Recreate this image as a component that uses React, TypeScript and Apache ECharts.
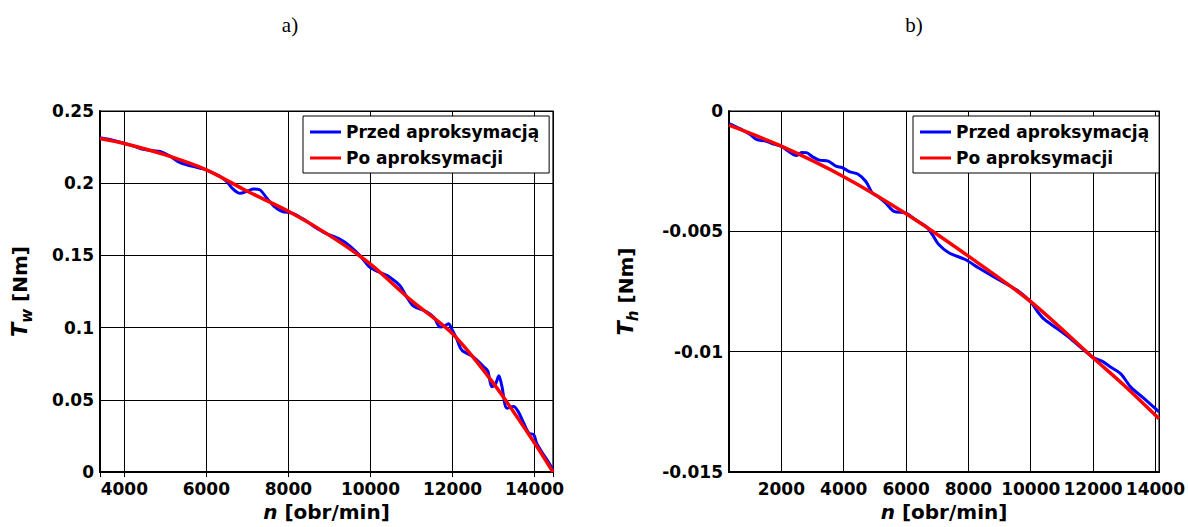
import React, { useEffect, useRef } from "react";
import * as echarts from "echarts";

const FONT = "DejaVu Sans";
const LEGEND_NAMES = ["Przed aproksymacją", "Po aproksymacji"];
const PANEL_TITLES = ["a)", "b)"];

// Panel a) : T_w vs n
const aBlueN = [3407, 3700, 4000, 4250, 4460, 4700, 4870, 5100, 5310, 5520, 5850, 6000, 6170, 6350, 6500, 6650, 6820, 7000, 7150, 7300, 7470, 7650, 7840, 8120, 8400, 8610, 8900, 9260, 9500, 9750, 9990, 10250, 10480, 10720, 10880, 11050, 11370, 11550, 11700, 11800, 11900, 12000, 12100, 12230, 12510, 12760, 12860, 12960, 13050, 13130, 13200, 13330, 13490, 13600, 13700, 13860, 13980, 14050, 14190, 14300, 14400, 14450];
const aBlueT = [0.2315, 0.23, 0.2276, 0.2255, 0.2235, 0.2225, 0.222, 0.219, 0.215, 0.2127, 0.2104, 0.2093, 0.207, 0.2045, 0.201, 0.196, 0.193, 0.1945, 0.196, 0.1955, 0.1898, 0.184, 0.1806, 0.179, 0.1745, 0.1703, 0.1655, 0.1611, 0.1565, 0.1497, 0.1417, 0.138, 0.1348, 0.129, 0.1215, 0.115, 0.111, 0.107, 0.1004, 0.101, 0.1027, 0.098, 0.0924, 0.0843, 0.0798, 0.0729, 0.07, 0.0591, 0.061, 0.0667, 0.06, 0.0442, 0.0454, 0.042, 0.0362, 0.027, 0.0259, 0.02, 0.0133, 0.0087, 0.004, 0.001];
const aRedN = [3407, 4000, 5000, 6000, 7000, 8000, 9000, 10000, 11000, 12000, 13000, 14000, 14450];
const aRedT = [0.231, 0.2275, 0.2196, 0.2093, 0.1944, 0.1806, 0.1639, 0.144, 0.1187, 0.0958, 0.0614, 0.0202, 0.0];

// Panel b) : T_h vs n
const bBlueN = [320, 670, 1000, 1200, 1500, 1700, 2000, 2200, 2480, 2650, 2800, 3000, 3220, 3500, 3750, 3950, 4180, 4450, 4710, 4920, 5100, 5350, 5610, 6000, 6300, 6640, 6850, 7050, 7370, 7900, 8320, 8960, 9600, 10020, 10200, 10430, 10870, 11300, 11990, 12300, 12570, 12890, 13210, 13640, 14117];
const bBlueT = [-0.00052, -0.00073, -0.00098, -0.00118, -0.00125, -0.00135, -0.00147, -0.00165, -0.00185, -0.00172, -0.00173, -0.0019, -0.00204, -0.00208, -0.00229, -0.00235, -0.00252, -0.00262, -0.00293, -0.00341, -0.00355, -0.00383, -0.00417, -0.00424, -0.00452, -0.00479, -0.00515, -0.00555, -0.00589, -0.00617, -0.00651, -0.007, -0.00748, -0.00796, -0.0083, -0.00865, -0.00906, -0.00948, -0.01023, -0.0104, -0.01064, -0.01092, -0.01147, -0.01195, -0.0125];
const bRedN = [320, 2000, 4000, 6000, 8000, 10000, 12000, 13000, 14117];
const bRedT = [-0.00059, -0.00146, -0.00273, -0.00427, -0.00603, -0.00792, -0.01025, -0.0114, -0.01278];

// axis extents
const aXRange = [3407, 14450];
const aYRange = [0, 0.25];
const bXRange = [320, 14117];
const bYRange = [-0.015, 0];
const yStep = [0.05, 0.005];
const xTickStep = 2000;

const pairs = (xs: number[], ys: number[]) => xs.map((x, i) => [x, ys[i]]);

export default function App() {
  const ref = useRef<HTMLDivElement>(null);
  useEffect(() => {
    const chart = echarts.init(ref.current!, null, { renderer: "svg" });
    const lbl = { color: "#000", fontFamily: FONT, fontWeight: "bold" as const, fontSize: 17 };
    const grids = [
      { left: 100, top: 111, width: 453, height: 363 },
      { left: 729, top: 111, width: 433, height: 363 },
    ];
    const xName = {
      name: "{i|n}{r| [obr/min]}",
      nameLocation: "middle",
      nameGap: 25,
      nameTextStyle: {
        rich: {
          i: { fontFamily: FONT, fontWeight: "bold", fontStyle: "italic", fontSize: 20, color: "#000" },
          r: { fontFamily: FONT, fontWeight: "bold", fontSize: 20, color: "#000" },
        },
      },
    };
    const yName = (sub: string) => ({
      name: `{t|T}{s|${sub}}{r| [Nm]}`,
      nameLocation: "middle",
      nameRotate: 90,
      nameTextStyle: {
        rich: {
          t: { fontFamily: FONT, fontWeight: "bold", fontStyle: "italic", fontSize: 21, color: "#000", lineHeight: 28, verticalAlign: "middle" },
          s: { fontFamily: FONT, fontWeight: "bold", fontStyle: "italic", fontSize: 15, color: "#000", lineHeight: 12, verticalAlign: "bottom" },
          r: { fontFamily: FONT, fontWeight: "bold", fontSize: 20, color: "#000", lineHeight: 28, verticalAlign: "middle" },
        },
      },
    });
    const mainX = (gi: number, range: number[]) => ({
      type: "value",
      gridIndex: gi,
      min: range[0],
      max: range[1],
      splitNumber: gi === 0 ? 5 : 7,
      position: "bottom",
      axisLine: { show: true, onZero: false, lineStyle: { color: "#000", width: 2 } },
      axisTick: { show: true, inside: true, length: 5, lineStyle: { color: "#000" } },
      axisLabel: { ...lbl, margin: 8, formatter: (v: number) => (v % xTickStep === 0 ? String(v) : "") },
      splitLine: { show: true, lineStyle: { color: "#000", width: 1 } },
      ...xName,
    });
    const topX = (gi: number, range: number[]) => ({
      type: "value",
      gridIndex: gi,
      min: range[0],
      max: range[1],
      splitNumber: gi === 0 ? 5 : 7,
      position: "top",
      axisLine: { show: false },
      axisTick: { show: true, inside: true, length: 5, lineStyle: { color: "#000" } },
      axisLabel: { show: false },
      splitLine: { show: false },
    });
    const mainY = (gi: number, range: number[], step: number, sub: string, gap: number) => ({
      type: "value",
      gridIndex: gi,
      min: range[0],
      max: range[1],
      interval: step,
      position: "left",
      axisLine: { show: true, onZero: false, lineStyle: { color: "#000", width: 2 } },
      axisTick: { show: true, inside: true, length: 5, lineStyle: { color: "#000" } },
      axisLabel: { ...lbl, margin: 6 },
      splitLine: { show: true, lineStyle: { color: "#000", width: 1 } },
      nameGap: gap,
      ...yName(sub),
    });
    const rightY = (gi: number, range: number[], step: number) => ({
      type: "value",
      gridIndex: gi,
      min: range[0],
      max: range[1],
      interval: step,
      position: "right",
      axisLine: { show: false },
      axisTick: { show: true, inside: true, length: 5, lineStyle: { color: "#000" } },
      axisLabel: { show: false },
      splitLine: { show: false },
    });
    const legend = (left: number) => ({
      left,
      top: 116,
      orient: "vertical",
      data: LEGEND_NAMES.map((n) => ({ name: n, icon: "rect" })),
      itemWidth: 31,
      itemHeight: 3,
      itemGap: 6,
      textStyle: { ...lbl, lineHeight: 20 },
      backgroundColor: "#fff",
      borderColor: "#000",
      borderWidth: 1,
      borderRadius: 0,
      padding: [6, 10, 5, 7],
      selectedMode: false,
      z: 10,
    });
    const line = (name: string, xi: number, yi: number, data: number[][], color: string, width: number, z: number) => ({
      type: "line",
      name,
      xAxisIndex: xi,
      yAxisIndex: yi,
      data,
      symbol: "none",
      smooth: 0.3,
      z,
      lineStyle: { color, width },
      itemStyle: { color },
    });
    chart.setOption({
      animation: false,
      backgroundColor: "#fff",
      grid: grids.map((g) => ({ ...g, show: true, borderColor: "#000", borderWidth: 1.2, backgroundColor: "transparent" })),
      xAxis: [mainX(0, aXRange), mainX(1, bXRange), topX(0, aXRange), topX(1, bXRange)],
      yAxis: [
        mainY(0, aYRange, yStep[0], "w", 66),
        mainY(1, bYRange, yStep[1], "h", 89),
        rightY(0, aYRange, yStep[0]),
        rightY(1, bYRange, yStep[1]),
      ],
      legend: [legend(303), legend(913)],
      series: [
        line(LEGEND_NAMES[0], 0, 0, pairs(aBlueN, aBlueT), "#0000ff", 3, 2),
        line(LEGEND_NAMES[1], 0, 0, pairs(aRedN, aRedT), "#ff0000", 3.5, 3),
        line(LEGEND_NAMES[0], 1, 1, pairs(bBlueN, bBlueT), "#0000ff", 3, 2),
        line(LEGEND_NAMES[1], 1, 1, pairs(bRedN, bRedT), "#ff0000", 3.5, 3),
      ],
      graphic: PANEL_TITLES.map((t, i) => ({
        type: "text",
        x: i === 0 ? 290 : 914,
        y: 25,
        style: {
          text: t,
          font: '21px "Liberation Serif"',
          fill: "#000",
          textAlign: "center",
          textVerticalAlign: "middle",
        },
      })),
    });
    return () => chart.dispose();
  }, []);
  return <div ref={ref} style={{ position: "fixed", left: 0, top: 0, width: 1188, height: 527 }} />;
}
